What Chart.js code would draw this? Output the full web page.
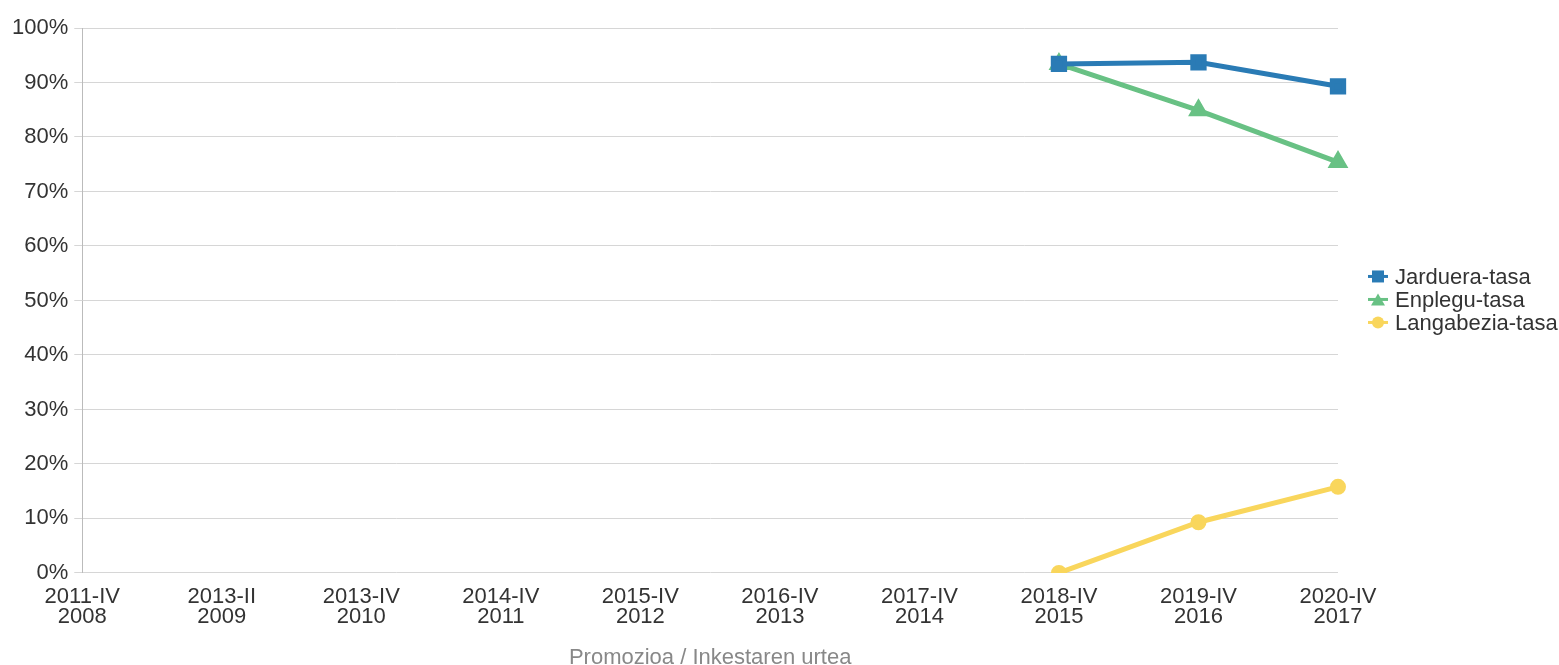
<!DOCTYPE html>
<html>
<head>
<meta charset="utf-8">
<script src="https://cdn.jsdelivr.net/npm/chart.js@4/dist/chart.umd.min.js"></script>
<style>
  html, body { margin: 0; padding: 0; background: #fff; }
  #wrap { width: 1559px; height: 665px; }
</style>
</head>
<body>
<div id="wrap"><canvas id="myChart"></canvas></div>
<script>
const categories = [
    ['2011-IV', '2008'], ['2013-II', '2009'], ['2013-IV', '2010'], ['2014-IV', '2011'],
    ['2015-IV', '2012'], ['2016-IV', '2013'], ['2017-IV', '2014'], ['2018-IV', '2015'],
    ['2019-IV', '2016'], ['2020-IV', '2017']
];
const jarduera = [null, null, null, null, null, null, null, 93.4, 93.7, 89.3];
const enplegu = [null, null, null, null, null, null, null, 93.4, 84.9, 75.4];
const langabezia = [null, null, null, null, null, null, null, 0, 9.3, 15.8];

const seriesNames = ['Jarduera-tasa', 'Enplegu-tasa', 'Langabezia-tasa'];
const colors = ['#2a7bb5', '#68c184', '#f9d65c'];
const styles = ['rect', 'triangle', 'circle'];
const radii = [8, 7, 5.5];
const FONT = 'Liberation Sans';

// legend drawn by hand to the right of the plot: line with marker, then text
const sideLegend = {
    id: 'sideLegend',
    afterDraw(chart) {
        const g = chart.ctx;
        const area = chart.chartArea;
        const x = area.right + 30;
        const mid = (area.top + area.bottom) / 2;
        g.save();
        g.font = '22px "' + FONT + '"';
        g.textBaseline = 'middle';
        chart.data.datasets.forEach((ds, i) => {
            const y = mid + (i - 1) * 23 - 1;
            const c = colors[i];
            g.strokeStyle = c; g.fillStyle = c; g.lineWidth = 3;
            g.beginPath(); g.moveTo(x, y); g.lineTo(x + 20, y); g.stroke();
            g.beginPath();
            if (styles[i] === 'rect') g.rect(x + 4, y - 6, 12, 12);
            else if (styles[i] === 'triangle') { g.moveTo(x + 10, y - 6); g.lineTo(x + 17, y + 6); g.lineTo(x + 3, y + 6); g.closePath(); }
            else g.arc(x + 10, y, 6, 0, Math.PI * 2);
            g.fill();
            g.fillStyle = '#333';
            g.fillText(ds.label, x + 27, y + 1);
        });
        g.restore();
    }
};

const allData = [jarduera, enplegu, langabezia];
const datasets = allData.map((d, i) => ({
    label: seriesNames[i],
    data: d,
    borderColor: colors[i],
    backgroundColor: colors[i],
    borderWidth: 5,
    pointStyle: styles[i],
    pointRadius: radii[i],
    pointHoverRadius: radii[i],
    tension: 0
}));

const ctx = document.getElementById('myChart').getContext('2d');
new Chart(ctx, {
    type: 'line',
    data: { labels: categories, datasets: datasets },
    plugins: [sideLegend],
    options: {
        responsive: true,
        maintainAspectRatio: false,
        animation: false,
        layout: { padding: { top: 28, right: 221, bottom: 2, left: 6 } },
        scales: {
            x: {
                offset: false,
                grid: { display: false, drawTicks: false },
                border: { display: false },
                ticks: { color: '#333', font: { family: FONT, size: 22, lineHeight: 0.92 }, maxRotation: 0, autoSkip: false, padding: 14 },
                title: { display: true, text: 'Promozioa / Inkestaren urtea', color: '#888', font: { family: FONT, size: 22, lineHeight: 0.5 }, padding: { top: 10.6, bottom: 0 } }
            },
            y: {
                min: 0,
                max: 100,
                ticks: { stepSize: 10, color: '#333', font: { family: FONT, size: 22 }, padding: 6, callback: v => v + '%' },
                grid: { color: '#d6d6d6', tickLength: 8 },
                border: { display: true, color: '#bbb' }
            }
        },
        plugins: {
            legend: { display: false },
            tooltip: { enabled: false }
        }
    }
});
</script>
</body>
</html>
